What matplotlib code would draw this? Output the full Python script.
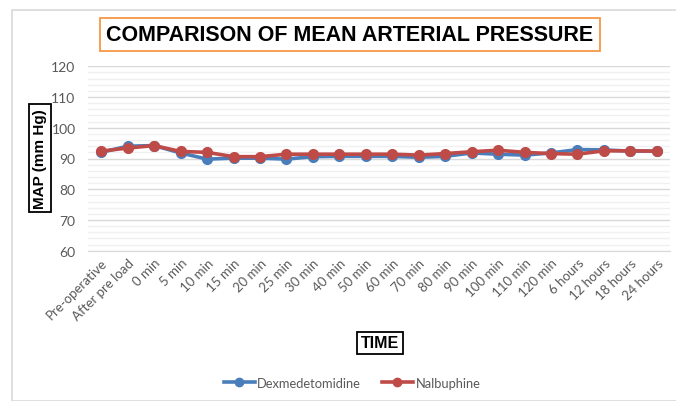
import matplotlib
matplotlib.use("Agg")
import matplotlib.pyplot as plt
from matplotlib.patches import Rectangle
from matplotlib.lines import Line2D

categories = ["Pre-operative", "After pre load", "0 min", "5 min", "10 min", "15 min",
              "20 min", "25 min", "30 min", "40 min", "50 min", "60 min", "70 min",
              "80 min", "90 min", "100 min", "110 min", "120 min", "6 hours",
              "12 hours", "18 hours", "24 hours"]
dexmedetomidine = [92.0, 94.0, 94.2, 91.8, 89.8, 90.1, 90.1, 89.8, 90.6, 90.7, 90.7,
                   90.7, 90.4, 90.7, 91.8, 91.4, 91.1, 91.8, 92.9, 92.8, 92.4, 92.4]
nalbuphine = [92.4, 93.4, 94.2, 92.3, 92.0, 90.6, 90.6, 91.4, 91.4, 91.4, 91.4,
              91.4, 91.1, 91.6, 92.2, 92.7, 92.0, 91.6, 91.4, 92.5, 92.5, 92.4]
y_ticks = [60, 70, 80, 90, 100, 110, 120]

W, H = 676, 402
fig = plt.figure(figsize=(W / 100, H / 100), dpi=100)
fig.patch.set_facecolor("white")

def fx(px):
    return px / W

def fy(py):
    return 1 - py / H

# outer chart border
fig.add_artist(Rectangle((fx(12), fy(402)), fx(700), fy(11) - fy(402), transform=fig.transFigure,
                         fill=False, edgecolor="#D9D9D9", linewidth=1.2))

ax = fig.add_axes([fx(88), fy(251.7), fx(670) - fx(88), fy(67.3) - fy(251.7)])
x = list(range(len(categories)))

ax.set_ylim(60, 120)
ax.set_xlim(-0.5, len(categories) - 0.5)
ax.set_yticks(y_ticks)
ax.set_yticks([v for v in range(60, 121, 2) if v % 10 != 0], minor=True)
ax.yaxis.grid(True, which="major", color="#D9D9D9", linewidth=1.0)
ax.yaxis.grid(True, which="minor", color="#F0F0F0", linewidth=1.0)
ax.set_axisbelow(True)
for s in ["left", "right", "top"]:
    ax.spines[s].set_visible(False)
ax.spines["bottom"].set_color("#D9D9D9")
ax.tick_params(axis="both", which="both", length=0)
ax.tick_params(axis="y", labelsize=10, labelcolor="#595959", pad=9)
ax.set_xticks(x)
ax.set_xticklabels(categories, rotation=45, ha="right", rotation_mode="anchor",
                   fontsize=9.5, color="#595959", family="Lato")
ax.tick_params(axis="x", pad=4)
for lab in ax.get_yticklabels():
    lab.set_family("Lato")

blue = "#4A7EBB"
red = "#BE4B48"
ax.plot(x, dexmedetomidine, color=blue, linewidth=2.6, marker="o", markersize=7,
        markerfacecolor=blue, markeredgecolor=blue, zorder=3)
ax.plot(x, nalbuphine, color=red, linewidth=2.6, marker="o", markersize=7,
        markerfacecolor=red, markeredgecolor=red, zorder=4)

# title
fig.text(fx(350), fy(35.5), "COMPARISON OF MEAN ARTERIAL PRESSURE", ha="center", va="center",
         fontsize=15.5, fontweight="bold", family="Liberation Sans",
         bbox=dict(boxstyle="square,pad=0.3", facecolor="white", edgecolor="#F79646", linewidth=1.3))

# y label
fig.text(fx(40), fy(159), "MAP (mm Hg)", ha="center", va="center", rotation=90,
         fontsize=11, fontweight="bold", family="Liberation Sans",
         bbox=dict(boxstyle="square,pad=0.25", facecolor="white", edgecolor="black", linewidth=1.3))

# x label
fig.text(fx(380), fy(344), "TIME", ha="center", va="center",
         fontsize=11.5, fontweight="bold", family="Liberation Sans",
         bbox=dict(boxstyle="square,pad=0.25", facecolor="white", edgecolor="black", linewidth=1.3))

handles = [Line2D([], [], color=blue, linewidth=2.6, marker="o", markersize=6),
           Line2D([], [], color=red, linewidth=2.6, marker="o", markersize=6)]
leg = fig.legend(handles, ["Dexmedetomidine", "Nalbuphine"], loc="center",
                 bbox_to_anchor=(fx(352), fy(384)), ncol=2, frameon=False,
                 handlelength=2.4, handletextpad=0.2, columnspacing=1.6,
                 prop={"family": "Lato", "size": 9.3})
for t in leg.get_texts():
    t.set_color("#595959")

fig.savefig("out.png", dpi=100)
